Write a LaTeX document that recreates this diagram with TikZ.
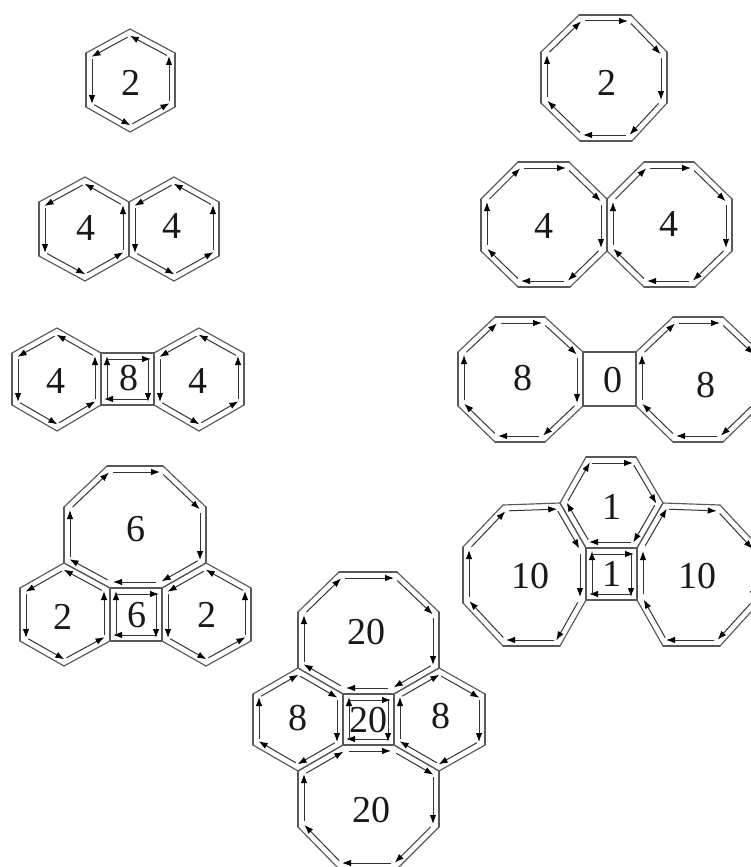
\documentclass[tikz,border=0pt]{standalone}
\usepackage{fontspec}
\setmainfont{Liberation Serif}
\usetikzlibrary{calc,arrows.meta}
\tikzset{
  wall/.style={draw=black!65,line width=1.15pt,line cap=round},
  flow/.style={draw=black!80,line width=1pt,-{Latex[length=9pt,width=6.5pt,color=black]}},
  lbl/.style={inner sep=0pt,text=black!90,font=\fontsize{38}{38}\selectfont}
}
\def\ringsplit#1/#2\relax{\gdef\ringpx{#1}\gdef\ringpy{#2}}
% #1 = turn towards the inside (-90 clockwise on screen, 90 counter-clockwise), #2 = first vertex, #3 = other vertices
\newcommand\ring[3]{%
  \ringsplit#2\relax
  \foreach \vx/\vy in {#3,#2}{%
    \coordinate (ra) at (\ringpx,\ringpy);
    \coordinate (rb) at (\vx,\vy);
    \draw[wall] (ra) -- (rb);
    \coordinate (rc) at ($(ra)!6pt!#1:(rb)$);
    \pgfmathsetmacro\ringback{-(#1)}%
    \coordinate (rd) at ($(rb)!6pt!\ringback:(ra)$);
    \draw[flow] ($(rc)!6pt!(rd)$) -- ($(rd)!3pt!(rc)$);
    \xdef\ringpx{\vx}\xdef\ringpy{\vy}%
  }%
}
\begin{document}
\begin{tikzpicture}[x=1pt,y=-1pt]
\useasboundingbox (0,0) rectangle (751,867);
\clip (0,0) rectangle (751,867);
\fill[white] (0,0) rectangle (751,867);
% benzene
\ring{90}{130/29}{86/53,86/107,130/132,175/107,175/53}
\node[lbl] (a1) at (131,83) {2};
% two hexagons
\ring{90}{85/177}{39/202,39/256,85/281,129/256,129/202}
\ring{90}{174/177}{129/202,129/256,174/281,219/256,219/202}
\node[lbl] (b1) at (86,228) {4};
\node[lbl] (b2) at (172,226) {4};
% hexagon square hexagon
\ring{90}{57/328}{12/353,12/405,57/431,101/405,101/353}
\ring{-90}{101/353}{154/353,154/405,101/405}
\ring{90}{199/328}{154/353,154/405,199/431,244/405,244/353}
\node[lbl] (c1) at (56,381) {4};
\node[lbl] (c2) at (129,378) {8};
\node[lbl] (c3) at (198,381) {4};
% octagon square two hexagons
\ring{-90}{107/466}{163/466,206/507,206/563,162/588,110/588,64/563,64/507}
\ring{-90}{110/588}{162/588,162/641,110/641}
\ring{90}{64/563}{20/588,20/641,64/666,110/641,110/588}
\ring{90}{206/563}{162/588,162/641,206/666,251/641,251/588}
\node[lbl] (d1) at (136,529) {6};
\node[lbl] (d2) at (63,617) {2};
\node[lbl] (d3) at (137,615) {6};
\node[lbl] (d4) at (207,615) {2};
% two octagons two hexagons square
\ring{-90}{339/572}{397/572,439/612,439/668,394/694,343/694,298/668,298/612}
\ring{-90}{343/694}{394/694,394/745,343/745}
\ring{-90}{298/668}{343/694,343/745,298/771,253/745,253/694}
\ring{-90}{439/668}{485/694,485/745,439/771,394/745,394/694}
\ring{-90}{343/745}{394/745,439/771,439/827,397/869,339/869,298/827,298/771}
\node[lbl] (e1) at (366,632) {20};
\node[lbl] (e2) at (298,718) {8};
\node[lbl] (e3) at (368,720) {20};
\node[lbl] (e4) at (441,716) {8};
\node[lbl] (e5) at (371,810) {20};
% right column
\ring{-90}{579/15}{631/15,667/52,667/103,632/141,580/141,541/103,541/52}
\node[lbl] (f1) at (607,83) {2};
\ring{-90}{518/162}{569/162,607/199,607/251,570/287,518/287,481/251,481/199}
\ring{-90}{644/162}{694/162,732/199,732/251,695/287,644/287,607/251,607/199}
\node[lbl] (g1) at (544,226) {4};
\node[lbl] (g2) at (669,224) {4};
\ring{-90}{495/317}{545/317,583/352,583/406,545/442,495/442,458/406,458/352}
\ring{-90}{673/317}{723/317,760/352,760/406,723/442,673/442,636/406,636/352}
\draw[wall] (583,352) -- (636,352) (583,406) -- (636,406);
\node[lbl] (h1) at (523,378) {8};
\node[lbl] (h2) at (613,380) {0};
\node[lbl] (h3) at (706,385) {8};
\ring{-90}{586/457}{636/457,663/503,637/548,586/548,560/503}
\ring{-90}{586/548}{637/548,637/600,586/600}
\ring{-90}{503/505}{560/503,586/548,586/600,560/646,503/646,463/603,463/547}
\ring{-90}{663/503}{720/505,759/547,759/603,720/646,663/646,637/600,637/548}
\node[lbl] (i1) at (612,507) {1};
\node[lbl] (i2) at (530,576) {10};
\node[lbl] (i3) at (612,574) {1};
\node[lbl] (i4) at (697,576) {10};
\end{tikzpicture}
\end{document}
